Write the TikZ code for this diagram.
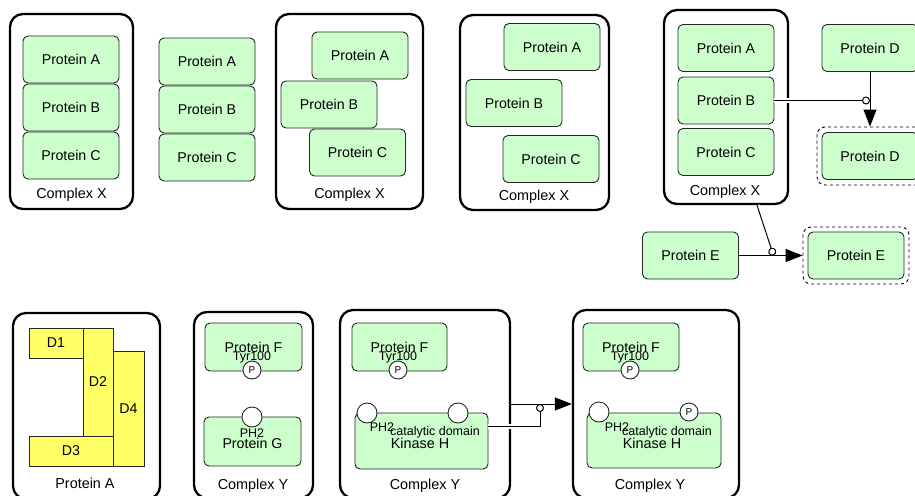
\documentclass[tikz,border=0pt]{standalone}
\usepackage{fontspec}
\setmainfont{Liberation Sans}
\usetikzlibrary{arrows.meta}

\definecolor{protfill}{HTML}{CCFFCC}
\definecolor{domfill}{HTML}{FFFF66}

\tikzset{
  protein/.style={draw=black!85, line width=0.9pt, rounded corners=5pt, fill=protfill,
    minimum width=96, minimum height=47, inner sep=0pt, font=\fontsize{14.2}{16}\selectfont},
  complexbox/.style={draw, line width=2.3pt, rounded corners=13pt, inner sep=0pt},
  dashbox/.style={draw, dashed, line width=0.9pt, rounded corners=8pt, inner sep=0pt},
  domainbox/.style={draw=black!85, line width=0.8pt, fill=domfill, inner sep=0pt,
    font=\fontsize{14.2}{16}\selectfont},
  cplabel/.style={inner sep=0pt, font=\fontsize{14.4}{16}\selectfont},
  smalltext/.style={inner sep=0pt, font=\fontsize{12.5}{14}\selectfont},
  statevar/.style={circle, draw=black!85, line width=0.9pt, fill=white, minimum size=19, inner sep=0pt,
    font=\fontsize{10}{11}\selectfont},
  modline/.style={line width=1pt, -{Circle[length=8pt, fill=white]},
    preaction={draw=white, line width=5pt, -}},
  procline/.style={line width=1pt, -{Triangle[length=17pt, width=13pt]}}
}

\begin{document}
\begin{tikzpicture}[x=1pt, y=-1pt]
  \useasboundingbox (0,0) rectangle (915,495);
  \clip (0,0) rectangle (915,495);

  % complex X, stacked
  \node[complexbox, minimum width=123, minimum height=195] (cx1) at (71.5,111.5) {};
  \node[protein] (a1) at (71,59.5) {Protein A};
  \node[protein] (b1) at (71,107.5) {Protein B};
  \node[protein] (c1) at (71,155.5) {Protein C};
  \node[cplabel] (cx1l) at (71.5,195) {Complex X};

  % free proteins
  \node[protein] (a2) at (207,61.5) {Protein A};
  \node[protein] (b2) at (207,109.5) {Protein B};
  \node[protein] (c2) at (207,157.5) {Protein C};

  % complex X, shifted
  \node[complexbox, minimum width=147, minimum height=195] (cx3) at (349.5,111.5) {};
  \node[protein] (a3) at (360,55.5) {Protein A};
  \node[protein] (b3) at (329,104.5) {Protein B};
  \node[protein] (c3) at (357.5,152.5) {Protein C};
  \node[cplabel] (cx3l) at (349.5,195) {Complex X};

  % complex X, loose
  \node[complexbox, minimum width=149, minimum height=195] (cx4) at (534.5,112.5) {};
  \node[protein] (a4) at (552,47) {Protein A};
  \node[protein] (b4) at (514,103) {Protein B};
  \node[protein] (c4) at (551,159) {Protein C};
  \node[cplabel] (cx4l) at (534,197) {Complex X};

  % complex X with modulations
  \node[complexbox, minimum width=124, minimum height=194] (cx5) at (726,107) {};
  \node[protein] (a5) at (726,48) {Protein A};
  \node[protein] (b5) at (726,100.5) {Protein B};
  \node[protein] (c5) at (726,152) {Protein C};
  \node[cplabel] (cx5l) at (725,192) {Complex X};

  \node[protein] (dTop) at (870,48) {Protein D};
  \node[dashbox, minimum width=106, minimum height=58] (dDash) at (870,156) {};
  \node[protein] (dBot) at (870,156) {Protein D};

  \node[protein] (eL) at (690.5,255.5) {Protein E};
  \node[dashbox, minimum width=106, minimum height=57] (eDash) at (856,255.5) {};
  \node[protein] (eR) at (856,255.5) {Protein E};

  \coordinate (mE) at (773.5,255.5);
  \draw[modline] (b5.east) -- (dTop.south |- b5.east);
  \draw[modline] (757,0 |- cx5.south) -- (mE);
  \draw[procline] (dTop.south) -- (dDash.north);
  \draw[procline] (eL.east) -- (eDash.west);

  % protein A with domains
  \node[complexbox, minimum width=147, minimum height=186] (pA) at (86.5,406) {};
  \node[domainbox, minimum width=54, minimum height=30] (d1) at (56,343) {D1};
  \node[domainbox, minimum width=30, minimum height=108] (d2) at (98,382) {D2};
  \node[domainbox, minimum width=31, minimum height=115] (d4) at (128.5,408.5) {D4};
  \node[domainbox, minimum width=84, minimum height=30] (d3) at (71,451) {D3};
  \node[cplabel] (pAl) at (85,483) {Protein A};

  % complex Y
  \node[complexbox, minimum width=119, minimum height=186] (cy1) at (253.5,405) {};
  \node[protein, minimum width=97, minimum height=48] (f1) at (253.5,347) {Protein F};
  \node[statevar, minimum size=18, label={[smalltext, label distance=-3pt]90:Tyr100}] (f1p) at (252,370) {P};
  \node[protein, minimum width=97, minimum height=49, text depth=0pt] (g1) at (252.5,441.5) {\raisebox{-3pt}{Protein G}};
  \node[statevar, minimum size=20, label={[smalltext, label distance=1pt]-90:PH2}] (g1s) at (252,417) {};
  \node[cplabel] (cy1l) at (253,486) {Complex Y};

  % complex Y before phosphorylation
  \node[complexbox, minimum width=170, minimum height=188] (cy2) at (425,404) {};
  \node[protein, minimum width=95, minimum height=48] (f2) at (399.5,347) {Protein F};
  \node[statevar, minimum size=18, label={[smalltext, label distance=-3pt]90:Tyr100}] (f2p) at (398,370) {P};
  \node[protein, minimum width=133, minimum height=56] (h2) at (421.5,441) {};
  \node[statevar, minimum size=20] (h2s1) at (367,413) {};
  \node[statevar, minimum size=20] (h2s2) at (458,413) {};
  \node[smalltext] (h2t1) at (382,427) {PH2};
  \node[smalltext] (h2t2) at (435,432) {catalytic domain};
  \node[cplabel] (h2t) at (420,443) {Kinase H};
  \node[cplabel] (cy2l) at (425,486) {Complex Y};

  % complex Y after phosphorylation
  \node[complexbox, minimum width=166, minimum height=188] (cy3) at (656,404) {};
  \node[protein, minimum width=96, minimum height=48] (f3) at (631,347) {Protein F};
  \node[statevar, minimum size=18, label={[smalltext, label distance=-3pt]90:Tyr100}] (f3p) at (630,370) {P};
  \node[protein, minimum width=134, minimum height=55] (h3) at (654,440.5) {};
  \node[statevar, minimum size=20] (h3s1) at (599,412) {};
  \node[statevar, minimum size=18] (h3s2) at (689,412) {P};
  \node[smalltext] (h3t1) at (617,427) {PH2};
  \node[smalltext] (h3t2) at (667,432) {catalytic domain};
  \node[cplabel] (h3t) at (652,443) {Kinase H};
  \node[cplabel] (cy3l) at (650,486) {Complex Y};

  \coordinate (mK) at (540,404);
  \draw[modline] (h2.east |- 0,426) -| (mK);
  \draw[procline] (cy2.east) -- (cy3.west);
\end{tikzpicture}
\end{document}
